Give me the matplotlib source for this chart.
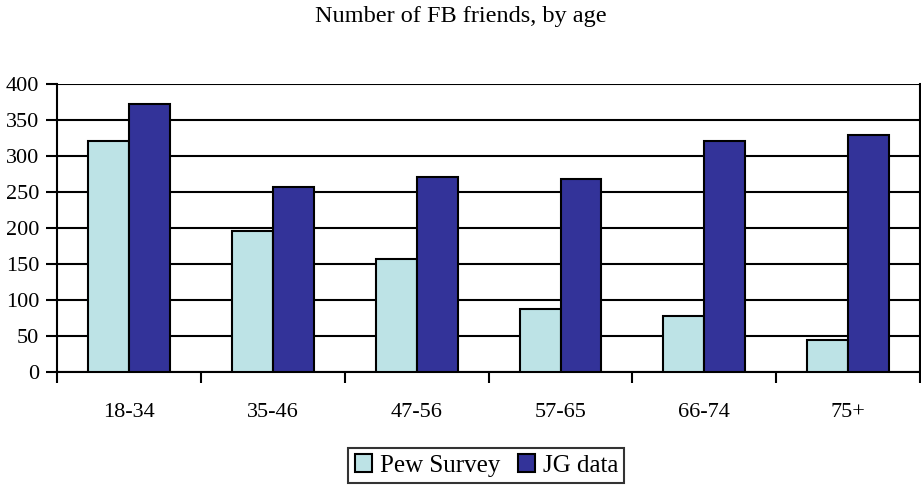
import matplotlib.pyplot as plt
import numpy as np
from matplotlib.patches import Patch
from matplotlib.ticker import FixedLocator

# Data
ages = ["18-34", "35-46", "47-56", "57-65", "66-74", "75+"]
pew_survey = [321, 196, 157, 87, 78, 44]
jg_data = [372, 257, 271, 268, 321, 329]

PEW_COLOR = "#bde3e6"
JG_COLOR = "#333399"

plt.rcParams['font.family'] = ['Liberation Serif', 'DejaVu Serif']

fig = plt.figure(figsize=(9.21, 4.87), dpi=100)
ax = fig.add_axes([0.062, 0.236, 0.937, 0.592])

x = np.arange(len(ages))
w = 0.285
ax.bar(x - w / 2, pew_survey, w, color=PEW_COLOR, edgecolor="black", linewidth=1.5, zorder=3)
ax.bar(x + w / 2, jg_data, w, color=JG_COLOR, edgecolor="black", linewidth=1.5, zorder=3)

ax.set_xlim(-0.5, len(ages) - 0.5)
ax.set_ylim(0, 400)
ax.set_yticks(range(0, 401, 50))
ax.yaxis.grid(True, color="black", linewidth=1.5, zorder=0)
ax.set_axisbelow(True)

ax.set_xticks(x)
ax.set_xticklabels(ages, fontsize=16)
ax.tick_params(axis="x", which="major", length=0, pad=22)
ax.xaxis.set_minor_locator(FixedLocator(np.arange(-0.5, len(ages), 1)))
ax.tick_params(axis="x", which="minor", length=8, width=1.5, color="black")
ax.tick_params(axis="y", length=8, width=1.5, labelsize=16, pad=5)

for s in ["left", "bottom", "right"]:
    ax.spines[s].set_linewidth(1.5)
ax.spines["top"].set_visible(False)

fig.text(0.5, 0.966, "Number of FB friends, by age", ha="center", va="center", fontsize=17.5)

handles = [Patch(facecolor=PEW_COLOR, edgecolor="black", linewidth=1.5),
           Patch(facecolor=JG_COLOR, edgecolor="black", linewidth=1.5)]
leg = fig.legend(handles, ["Pew Survey", "JG data"], loc="center", bbox_to_anchor=(0.528, 0.044),
                 ncol=2, fontsize=18, frameon=True, fancybox=False, edgecolor="black",
                 handlelength=0.7, handleheight=0.7, handletextpad=0.3, columnspacing=0.7,
                 borderpad=0.25, borderaxespad=0)
leg.get_frame().set_linewidth(1.5)

fig.savefig("out.png", dpi=100)
